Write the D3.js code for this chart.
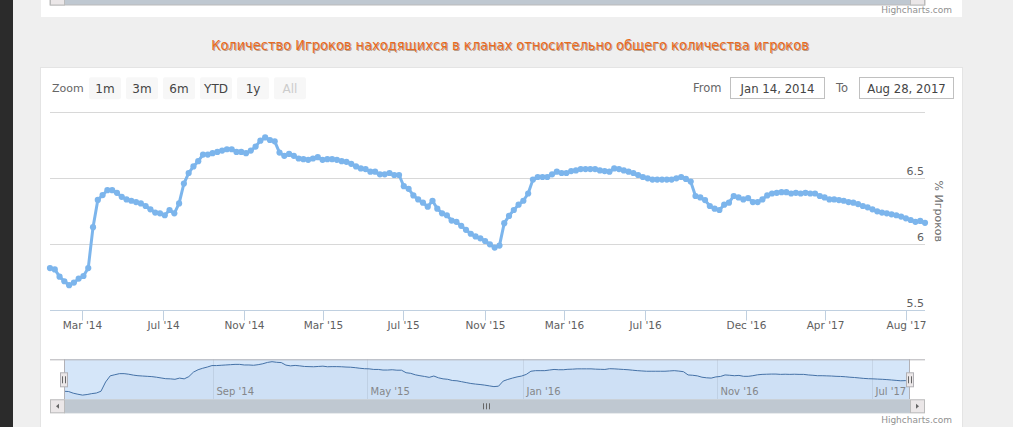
<!DOCTYPE html>
<html><head><meta charset="utf-8">
<script src="https://cdn.jsdelivr.net/npm/d3@7"></script>
<style>
html,body{margin:0;padding:0;overflow:hidden;background:#efefef}
svg{display:block;font-family:"DejaVu Sans",sans-serif}
</style>
</head><body><svg id="c" width="1013" height="427"></svg>
<script>
// ---------- data ----------
const titleText = "Количество Игроков находящихся в кланах относительно общего количества игроков";
const yAxisTitle = "% Игроков";
const axisStart = "2014-01-11", axisEnd = "2017-08-30";
const fromLabel = "Jan 14, 2014", toLabel = "Aug 28, 2017";
const values = [
 5.82,5.81,5.755,5.72,5.69,5.71,5.74,5.76,5.82,6.13,
 6.336,6.373,6.41,6.41,6.39,6.36,6.34,6.33,6.32,6.31,
 6.29,6.265,6.24,6.235,6.22,6.26,6.235,6.31,6.46,6.54,
 6.59,6.63,6.68,6.68,6.69,6.70,6.71,6.72,6.72,6.70,
 6.70,6.69,6.71,6.74,6.785,6.81,6.79,6.78,6.695,6.67,
 6.685,6.67,6.65,6.645,6.64,6.65,6.66,6.64,6.645,6.645,
 6.64,6.63,6.625,6.61,6.59,6.575,6.57,6.55,6.55,6.53,
 6.53,6.54,6.525,6.525,6.44,6.42,6.37,6.34,6.315,6.285,
 6.33,6.27,6.235,6.22,6.18,6.17,6.14,6.11,6.08,6.06,
 6.045,6.025,6.00,5.975,5.99,6.16,6.215,6.26,6.30,6.33,
 6.385,6.49,6.51,6.51,6.51,6.53,6.55,6.54,6.54,6.555,
 6.56,6.57,6.57,6.57,6.57,6.56,6.555,6.55,6.575,6.57,
 6.56,6.55,6.54,6.525,6.51,6.50,6.49,6.49,6.49,6.49,
 6.49,6.50,6.51,6.495,6.475,6.366,6.355,6.335,6.29,6.27,
 6.26,6.30,6.315,6.366,6.355,6.34,6.35,6.32,6.32,6.34,
 6.37,6.385,6.39,6.395,6.395,6.385,6.39,6.385,6.39,6.385,
 6.385,6.366,6.355,6.34,6.34,6.335,6.33,6.32,6.315,6.305,
 6.29,6.28,6.265,6.25,6.24,6.235,6.227,6.22,6.21,6.197,
 6.184,6.17,6.177,6.163
];
const yGridValues = [5.5, 6, 6.5, 7];
const yTickLabels = [5.5, 6, 6.5];
const xTickDates = ["2014-03-01","2014-07-01","2014-11-01","2015-03-01","2015-07-01","2015-11-01","2016-03-01","2016-07-01","2016-12-01","2017-04-01","2017-08-01"];
const navTickDates = ["2014-09-01","2015-05-01","2016-01-01","2016-11-01","2017-07-01"];
const zoomButtons = ["1m","3m","6m","YTD","1y","All"];

// ---------- layout ----------
const svg = d3.select("#c");
const parse = d3.utcParse("%Y-%m-%d");
const fmt = d3.utcFormat("%b '%y");
const t0 = parse(axisStart), t1 = parse(axisEnd);
const n = values.length;
const dates = values.map((v,i)=> new Date(+t0 + (t1 - t0) * i / (n - 1)));
const data = values.map((v,i)=>({date:dates[i], value:v}));

const plot = {left:50, right:925, top:112.3, bottom:310.3};
const nav = {left:64, right:910, top:359.3, bottom:399.3, outerLeft:50, outerRight:925};

// backgrounds
svg.append("rect").attr("width",1013).attr("height",427).attr("fill","#efefef");
svg.append("rect").attr("width",13).attr("height",427).attr("fill","#2b2b2b");
// top card (previous chart remnant)
svg.append("rect").attr("x",41).attr("y",-2).attr("width",921).attr("height",19).attr("fill","#fff");
svg.append("rect").attr("x",50).attr("y",-1).attr("width",875).attr("height",6).attr("fill","#bfc8d1").attr("stroke","#bbb").attr("stroke-width",1);
svg.append("rect").attr("x",50.5).attr("y",-1).attr("width",14).attr("height",6).attr("fill","#ebe7e8").attr("stroke","#bbb");
svg.append("rect").attr("x",910.5).attr("y",-1).attr("width",14).attr("height",6).attr("fill","#ebe7e8").attr("stroke","#bbb");
svg.append("text").attr("x",952).attr("y",13).attr("text-anchor","end").attr("font-size",9).attr("fill","#909090").text("Highcharts.com");

// title
const titleG = svg.append("g");
const tShadow = titleG.append("text").attr("x",511).attr("y",51).attr("text-anchor","middle")
  .attr("font-family","'Liberation Sans Narrow','DejaVu Sans Condensed',sans-serif").attr("font-size",14)
  .attr("fill","#7a3a10").attr("opacity",0.45).text(titleText);
const tMain = titleG.append("text").attr("x",510).attr("y",50).attr("text-anchor","middle")
  .attr("font-family","'Liberation Sans Narrow','DejaVu Sans Condensed',sans-serif").attr("font-size",14)
  .attr("fill","#ea6a1e").text(titleText);
{
  const w = tMain.node().getComputedTextLength();
  const fs = 14 * 598 / w;
  tMain.attr("font-size", fs); tShadow.attr("font-size", fs);
}

// main card
svg.append("rect").attr("x",40.5).attr("y",67.5).attr("width",922).attr("height",370).attr("fill","#fff").attr("stroke","#e4e4e4");

// range selector
svg.append("text").attr("x",52).attr("y",92).attr("font-size",11).attr("fill","#666").text("Zoom");
const btnX = d3.scaleBand().domain(zoomButtons).range([89, 89 + 37*zoomButtons.length]).paddingInner(0);
const btn = svg.append("g").selectAll("g").data(zoomButtons).join("g")
  .attr("transform", d=>`translate(${btnX(d)},77.3)`);
btn.append("rect").attr("width",32).attr("height",22).attr("rx",2).attr("fill","#f7f7f7");
btn.append("text").attr("x",16).attr("y",15.5).attr("text-anchor","middle").attr("font-size",12)
  .attr("fill", d=> d==="All" ? "#cccccc" : "#444").text(d=>d);

svg.append("text").attr("x",693).attr("y",92).attr("font-size",11.5).attr("fill","#666").text("From");
svg.append("text").attr("x",836).attr("y",92).attr("font-size",11.5).attr("fill","#666").text("To");
[[730,fromLabel],[859,toLabel]].forEach(([x,l])=>{
  svg.append("rect").attr("x",x+0.5).attr("y",77.5).attr("width",94).attr("height",21).attr("fill","#fff").attr("stroke","#c0c0c0");
  svg.append("text").attr("x",x+47.5).attr("y",92.5).attr("text-anchor","middle").attr("font-size",11.7).attr("fill","#444").text(l);
});

// scales
const x = d3.scaleUtc().domain([t0,t1]).range([plot.left, plot.right]);
const y = d3.scaleLinear().domain([5.5,7]).range([plot.bottom, plot.top]);

// grid
svg.append("g").selectAll("line").data(yGridValues).join("line")
  .attr("x1",plot.left).attr("x2",plot.right).attr("y1",d=>Math.round(y(d))+0.5).attr("y2",d=>Math.round(y(d))+0.5)
  .attr("stroke","#d8d8d8");
// y labels
svg.append("g").selectAll("text").data(yTickLabels).join("text")
  .attr("x",plot.right-1).attr("y",d=>y(d)-3).attr("text-anchor","end").attr("font-size",11).attr("fill","#606060")
  .text(d=>d3.format("")(d));
// y title
svg.append("text").attr("transform",`translate(935,${(plot.top+plot.bottom)/2}) rotate(90)`)
  .attr("text-anchor","middle").attr("font-size",11).attr("fill","#707070").text(yAxisTitle);

// x axis
const xAxisY = Math.round(plot.bottom)+0.5;
svg.append("line").attr("x1",plot.left).attr("x2",plot.right).attr("y1",xAxisY).attr("y2",xAxisY).attr("stroke","#c0d0e0");
const xt = svg.append("g").selectAll("g").data(xTickDates.map(parse)).join("g")
  .attr("transform",d=>`translate(${Math.round(x(d))+0.5},${xAxisY})`);
xt.append("line").attr("y1",0).attr("y2",10).attr("stroke","#c0d0e0");
xt.append("text").attr("y",18).attr("text-anchor","middle").attr("font-size",10.5).attr("fill","#606060").text(d=>fmt(d));

// series
const line = d3.line().x(d=>x(d.date)).y(d=>y(d.value));
svg.append("path").datum(data).attr("d",line).attr("fill","none").attr("stroke","#7cb5ec").attr("stroke-width",3).attr("stroke-linejoin","round");
svg.append("g").selectAll("circle").data(data).join("circle")
  .attr("cx",d=>x(d.date)).attr("cy",d=>y(d.value)).attr("r",3.1).attr("fill","#7cb5ec");

// navigator
const nx = d3.scaleUtc().domain([t0,t1]).range([nav.left, nav.right]);
const [vmin, vmax] = d3.extent(values);
const ny = d3.scaleLinear().domain([vmin-0.14, vmax+0.08]).range([nav.bottom, nav.top]);
// mask
svg.append("rect").attr("x",nav.left).attr("y",nav.top).attr("width",nav.right-nav.left).attr("height",nav.bottom-nav.top)
  .attr("fill","rgba(128,179,236,0.33)");
// nav grid + labels
const ng = svg.append("g").selectAll("g").data(navTickDates.map(parse)).join("g")
  .attr("transform",d=>`translate(${Math.round(nx(d))+0.5},0)`);
ng.append("line").attr("y1",nav.top).attr("y2",nav.bottom).attr("stroke","rgba(0,0,0,0.07)");
ng.append("text").attr("x",3).attr("y",nav.bottom-4).attr("font-size",10).attr("fill","#888").text(d=>fmt(d));
// nav series
const narea = d3.area().x(d=>nx(d.date)).y0(nav.bottom).y1(d=>ny(d.value));
svg.append("path").datum(data).attr("d",narea).attr("fill","rgba(69,114,167,0.05)");
svg.append("path").datum(data).attr("d",d3.line().x(d=>nx(d.date)).y(d=>ny(d.value)))
  .attr("fill","none").attr("stroke","#4572a7").attr("stroke-width",1);
// outline
svg.append("path").attr("d",`M${nav.outerLeft},${nav.top+0.5}H${nav.outerRight}M${nav.left+0.5},${nav.top}V${nav.bottom}M${nav.right-0.5},${nav.top}V${nav.bottom}`)
  .attr("stroke","#b2b1b6").attr("fill","none");
// handles
[nav.left, nav.right].forEach(hx=>{
  const g = svg.append("g").attr("transform",`translate(${hx},${(nav.top+nav.bottom)/2-7})`);
  g.append("rect").attr("x",-3.5).attr("y",0.5).attr("width",7).attr("height",14).attr("fill","#ebe7e8").attr("stroke","#b2b1b6");
  g.append("path").attr("d","M-1.5,4V11M1.5,4V11").attr("stroke","#666").attr("stroke-width",1);
});
// scrollbar
const sbTop = nav.bottom, sbH = 14;
svg.append("rect").attr("x",nav.outerLeft+0.5).attr("y",sbTop+0.5).attr("width",nav.outerRight-nav.outerLeft-1).attr("height",sbH-1).attr("fill","#eeeeee").attr("stroke","#eeeeee");
svg.append("rect").attr("x",nav.left+0.5).attr("y",sbTop+0.5).attr("width",nav.right-nav.left-1).attr("height",sbH-1).attr("fill","#bfc8d1").attr("stroke","#bfc8d1");
const mid = (nav.left+nav.right)/2;
svg.append("path").attr("d",`M${mid-3.5},${sbTop+4}V${sbTop+10}M${mid-0.5},${sbTop+4}V${sbTop+10}M${mid+2.5},${sbTop+4}V${sbTop+10}`).attr("stroke","#666");
[[nav.outerLeft, -1],[nav.right, 1]].forEach(([bx,dir])=>{
  svg.append("rect").attr("x",bx+0.5).attr("y",sbTop+0.5).attr("width",14).attr("height",sbH-1).attr("fill","#ebe7e8").attr("stroke","#bbb");
  const cx = bx+7.5, cy = sbTop+7;
  svg.append("path").attr("d",`M${cx-dir*1.5},${cy-2.5}L${cx-dir*1.5},${cy+2.5}L${cx+dir*1.5},${cy}Z`).attr("fill","#666");
});
// credits
svg.append("text").attr("x",952).attr("y",423).attr("text-anchor","end").attr("font-size",9).attr("fill","#909090").text("Highcharts.com");
</script>
</body></html>
